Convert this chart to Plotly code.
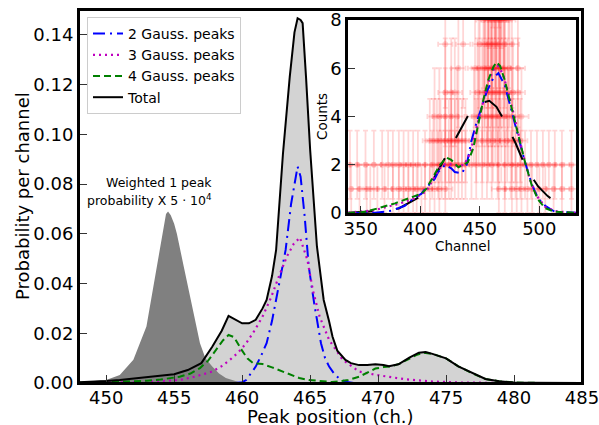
import numpy as np
import plotly.graph_objects as go

# ---------------- main panel data ----------------
weighted_x = [448, 449, 450, 451, 452, 452.96, 453.7, 454.2, 454.4, 454.55, 454.75, 455.0, 455.2,
              455.7, 456.3, 456.9, 457.3, 457.8, 458.3, 458.8, 459.8, 460.5]
weighted_y = [0.0003, 0.0006, 0.0012, 0.0032, 0.0093, 0.0227, 0.0468, 0.063, 0.068, 0.069, 0.0675,
              0.064, 0.060, 0.047, 0.031, 0.016, 0.010, 0.0066, 0.0038, 0.002, 0.0003, 0.0]

total_x = [448, 449, 450, 451, 452, 453, 454, 455, 456, 457, 457.8, 458.5, 459.0, 459.5, 460.0,
           460.5, 461.0, 461.5, 461.8, 462.2, 462.5, 463.0, 463.5, 463.85, 464.08, 464.3, 464.45,
           464.7, 465.0, 465.5, 466.0, 466.4, 466.65, 467.0, 467.6, 468.0, 468.6, 469.2, 469.8,
           470.4, 470.8, 471.5, 472.3, 473.0, 473.5, 474.0, 475.0, 475.9, 476.9, 477.9, 478.9,
           480.0, 481, 482, 485]
total_y = [0.0003, 0.0005, 0.0008, 0.0012, 0.0017, 0.0022, 0.0027, 0.0035, 0.0052, 0.008, 0.0146,
           0.021, 0.027, 0.0255, 0.024, 0.024, 0.0254, 0.030, 0.0334, 0.043, 0.0535, 0.092, 0.123,
           0.141, 0.1467, 0.146, 0.1447, 0.123, 0.094, 0.055, 0.0334, 0.0247, 0.0186, 0.013,
           0.0093, 0.0080, 0.0072, 0.0072, 0.0075, 0.0072, 0.0067, 0.0075, 0.0102, 0.0122, 0.0125,
           0.0117, 0.0099, 0.0067, 0.004, 0.0016, 0.0007, 0.0002, 0.0001, 0.0, 0.0]

g2_x = [459.5, 460.0, 460.3, 460.6, 461.0, 461.4, 461.8, 462.2, 462.5, 462.9, 463.2, 463.6, 464.08,
        464.3, 464.6, 464.9, 465.3, 465.8, 466.1, 466.4, 466.8, 467.1, 467.6, 468.2]
g2_y = [0.0, 0.0003, 0.0012, 0.0035, 0.0066, 0.011, 0.016, 0.025, 0.0334, 0.044, 0.0535, 0.072,
        0.087, 0.083, 0.067, 0.0468, 0.032, 0.016, 0.010, 0.0066, 0.0035, 0.002, 0.0005, 0.0]

g3_x = [448, 452, 455.4, 456.5, 457.8, 458.5, 459.1, 459.7, 460.3, 460.9, 461.5, 462.1, 462.7,
        463.3, 463.8, 464.25, 464.8, 465.2, 465.7, 466.4, 467.4, 468.6, 469.8, 471, 472, 474,
        476, 480, 485]
g3_y = [0.0, 0.0003, 0.0012, 0.0025, 0.0046, 0.0068, 0.0093, 0.0122, 0.016, 0.021, 0.0267, 0.034,
        0.0428, 0.051, 0.056, 0.0585, 0.0495, 0.0374, 0.0267, 0.0173, 0.0093, 0.0046, 0.0033,
        0.0022, 0.0015, 0.0006, 0.0002, 0.0, 0.0]

g4_x = [448, 450, 452, 453, 454, 455.4, 456.2, 456.9, 457.5, 458.1, 458.6, 459.0, 459.4, 460.0,
        460.4, 460.8, 461.5, 462.2, 463.0, 463.6, 464.2, 464.9, 466.0, 466.6, 467.1, 467.8, 468.6,
        469.2, 469.8, 470.4, 471.0, 471.6, 472.3, 472.8, 473.3, 474.0, 475.0, 475.9, 476.9, 477.9,
        478.9, 480.1, 482, 485]
g4_y = [0.0001, 0.0003, 0.0006, 0.0009, 0.0014, 0.0025, 0.0038, 0.006, 0.009, 0.0133, 0.0172,
        0.0193, 0.0185, 0.013, 0.0098, 0.008, 0.0076, 0.0063, 0.0046, 0.0033, 0.002, 0.0012,
        0.0005, 0.0004, 0.0006, 0.0012, 0.0025, 0.0042, 0.0058, 0.0064, 0.0067, 0.0078, 0.0098,
        0.0112, 0.0122, 0.0117, 0.0099, 0.0067, 0.004, 0.0016, 0.0007, 0.0002, 0.0, 0.0]

main_xticks = [450, 455, 460, 465, 470, 475, 480, 485]
main_yticks = [0.00, 0.02, 0.04, 0.06, 0.08, 0.10, 0.12, 0.14]

# ---------------- inset data ----------------
inset_ch = [342, 349, 355, 358, 364, 370, 377, 382, 386, 390, 394, 397, 401, 404, 408, 412, 416, 421,
            466, 471, 477, 481, 485, 490, 494, 500, 505, 512, 519, 527,
            341, 347, 354, 361, 368, 373, 377, 382, 386, 390, 394, 398, 404, 410, 415, 418, 421, 424, 426,
            429, 432, 435, 438, 443, 447, 452, 456, 460, 465, 471, 476, 480, 484, 488, 493, 498, 503,
            508, 513, 519, 527,
            408, 411, 414, 417, 421, 424, 426, 429, 432, 435, 438, 447, 452, 457, 461, 465, 468, 473,
            477, 480, 484,
            412, 416, 421, 426, 431, 445, 449, 454, 457, 460, 463, 466, 471, 474, 477, 485,
            421, 426, 429, 448, 452, 456, 459, 461, 464, 467, 470, 473, 478, 482,
            432, 446, 449, 454, 457, 460, 464, 467, 470, 475, 482,
            421, 436, 450, 454, 457, 460, 463, 466, 471, 477,
            453, 457, 460, 463, 466, 468, 471, 474,
            455, 459, 462, 464, 467, 470,
            458, 463, 468,
            461, 466]
inset_counts = ([1] * 30 + [2] * 41 + [3] * 21 + [4] * 16 + [5] * 14 + [6] * 11 + [7] * 10 +
                [8] * 8 + [9] * 6 + [10] * 3 + [11] * 2)
inset_cherr = [6] * len(inset_ch)
inset_cnterr = list(np.sqrt(inset_counts))

in_tot_x = [339.5, 350, 365, 382, 390, 400, 411, 421, 432, 442, 450, 458, 464, 471, 480, 489, 499, 507, 514, 516]
in_tot_y = [0.01, 0.03, 0.08, 0.19, 0.4, 0.68, 1.4, 2.3, 3.3, 4.2, 4.55, 4.65, 4.4, 3.8, 2.9, 1.85, 1.1, 0.7, 0.45, 0.4]

in_g2_x = [339.5, 360, 370, 376, 387, 393, 401, 404, 412, 415, 421, 426, 429, 435, 439, 443, 447, 452, 456,
           461.4, 465.6, 471, 476.8, 482, 488, 494, 499, 505, 513, 535]
in_g2_y = [0.0, 0.0, 0.05, 0.1, 0.3, 0.55, 0.8, 1.0, 1.4, 1.7, 2.0, 1.85, 1.7, 1.65, 2.0, 3.0, 3.7, 4.5, 5.05,
           5.6, 5.8, 5.3, 4.2, 3.2, 2.1, 1.15, 0.6, 0.3, 0.05, 0.0]

in_g3_x = [339.5, 360, 380, 395, 405, 412, 418, 422, 427, 432, 437, 442, 447, 452, 457, 461, 465, 469, 474,
           480, 486, 492, 498, 505, 513, 525, 535]
in_g3_y = [0.02, 0.1, 0.35, 0.6, 0.9, 1.5, 1.95, 2.05, 2.0, 1.95, 2.0, 2.5, 3.5, 4.5, 5.4, 5.9, 6.1, 5.8, 5.0,
           3.8, 2.5, 1.4, 0.7, 0.25, 0.08, 0.02, 0.0]

in_g4_x = [339.5, 353.6, 364.8, 378.8, 393, 401, 405, 409.6, 416.6, 422, 426, 432, 436, 440, 444.6, 449, 453,
           457, 461.4, 464, 467, 471, 476.8, 482, 488, 493.6, 499, 505, 513, 527, 535]
in_g4_y = [0.0, 0.05, 0.2, 0.4, 0.66, 0.8, 1.0, 1.4, 2.0, 2.3, 2.2, 1.9, 2.0, 2.1, 2.7, 3.8, 4.7, 5.5, 6.05,
           6.25, 6.1, 5.5, 4.4, 3.3, 2.1, 1.15, 0.55, 0.2, 0.05, 0.02, 0.0]

inset_xticks = [350, 400, 450, 500]
inset_yticks = [0, 2, 4, 6, 8]

FONT = "DejaVu Sans"
BLUE = "#0000ff"
MAG = "#bf00bf"
GREEN = "#008000"
RED_A = "rgba(255,0,0,0.16)"

fig = go.Figure()

# main panel fills
fig.add_trace(go.Scatter(x=total_x, y=total_y, mode="lines", fill="tozeroy",
                         fillcolor="#d3d3d3", line=dict(width=0), showlegend=False,
                         hoverinfo="skip"))
fig.add_trace(go.Scatter(x=weighted_x, y=weighted_y, mode="lines", fill="tozeroy",
                         fillcolor="#808080", line=dict(width=0, color="#808080"),
                         showlegend=False, hoverinfo="skip"))

fig.add_trace(go.Scatter(x=g2_x, y=g2_y, mode="lines", name="2 Gauss. peaks",
                         line=dict(color=BLUE, width=2, dash="12px,5px,2px,5px")))
fig.add_trace(go.Scatter(x=g3_x, y=g3_y, mode="lines", name="3 Gauss. peaks",
                         line=dict(color=MAG, width=2.2, dash="2px,4px")))
fig.add_trace(go.Scatter(x=g4_x, y=g4_y, mode="lines", name="4 Gauss. peaks",
                         line=dict(color=GREEN, width=2, dash="7px,4px")))
fig.add_trace(go.Scatter(x=total_x, y=total_y, mode="lines", name="Total",
                         line=dict(color="black", width=2)))

# inset
fig.add_trace(go.Scatter(
    x=inset_ch, y=inset_counts, mode="markers", xaxis="x2", yaxis="y2", showlegend=False,
    marker=dict(size=6, color=RED_A),
    error_x=dict(type="data", array=inset_cherr, color=RED_A, thickness=1.8, width=2.5),
    error_y=dict(type="data", array=inset_cnterr, color=RED_A, thickness=1.8, width=2.5),
))
fig.add_trace(go.Scatter(x=in_tot_x, y=in_tot_y, mode="lines", xaxis="x2", yaxis="y2", showlegend=False,
                         line=dict(color="black", width=2, dash="25px,23px")))
fig.add_trace(go.Scatter(x=in_g2_x, y=in_g2_y, mode="lines", xaxis="x2", yaxis="y2", showlegend=False,
                         line=dict(color=BLUE, width=2, dash="12px,5px,2px,5px")))
fig.add_trace(go.Scatter(x=in_g3_x, y=in_g3_y, mode="lines", xaxis="x2", yaxis="y2", showlegend=False,
                         line=dict(color=MAG, width=2.2, dash="2px,4px")))
fig.add_trace(go.Scatter(x=in_g4_x, y=in_g4_y, mode="lines", xaxis="x2", yaxis="y2", showlegend=False,
                         line=dict(color=GREEN, width=2, dash="7px,4px")))

W, H = 599, 425

def px_x(p):
    return p / W

def px_y(p):
    return 1 - p / H

axis_common = dict(showgrid=False, zeroline=False, showline=True, linecolor="black",
                   mirror=True, ticks="inside", tickcolor="#333333", tickwidth=1,
                   automargin=False, ticklabeloverflow="allow",
                   tickfont=dict(family=FONT, size=18, color="black"))

fig.update_layout(
    template="none",
    width=W, height=H,
    margin=dict(l=0, r=0, t=0, b=0, pad=0, autoexpand=False),
    paper_bgcolor="white", plot_bgcolor="white",
    font=dict(family=FONT, color="black"),
    xaxis=dict(domain=[px_x(79), px_x(582)], range=[448, 485], tickvals=main_xticks,
               ticklen=8, linewidth=2, anchor="y", ticklabelstandoff=-3, **axis_common),
    yaxis=dict(domain=[px_y(383), px_y(10)], range=[0, 0.15], tickvals=main_yticks,
               tickformat=".2f", ticklen=8, linewidth=2, anchor="x", **axis_common),
    xaxis2=dict(domain=[px_x(348), px_x(576)], range=[339.3, 530.8], tickvals=inset_xticks,
                ticklen=7, linewidth=2.5, anchor="y2", ticklabelstandoff=-2, **axis_common),
    yaxis2=dict(domain=[px_y(213), px_y(20)], range=[0, 8], tickvals=inset_yticks,
                ticklen=7, linewidth=2.5, anchor="x2", **axis_common),
    legend=dict(x=px_x(87), y=px_y(17), xanchor="left", yanchor="top",
                bgcolor="white", bordercolor="#cccccc", borderwidth=1,
                font=dict(family=FONT, size=14, color="black")),
    showlegend=True,
    hovermode=False,
    shapes=[
        dict(type="rect", xref="paper", yref="paper", x0=px_x(79), x1=px_x(582),
             y0=px_y(383), y1=px_y(10), line=dict(color="black", width=2),
             fillcolor="rgba(0,0,0,0)", layer="above"),
    ],
)

annotations = [
    dict(text="Peak position (ch.)", xref="paper", yref="paper", x=px_x(330.5), y=px_y(416.5),
         xanchor="center", yanchor="middle", showarrow=False, font=dict(size=18)),
    dict(text="Probability per channel", xref="paper", yref="paper", x=px_x(22), y=px_y(196),
         xanchor="center", yanchor="middle", textangle=-90, showarrow=False, font=dict(size=18)),
    dict(text="Counts", xref="paper", yref="paper", x=px_x(321.5), y=px_y(116.5),
         xanchor="center", yanchor="middle", textangle=-90, showarrow=False, font=dict(size=13.5)),
    dict(text="Channel", xref="paper", yref="paper", x=px_x(462), y=px_y(245.5),
         xanchor="center", yanchor="middle", showarrow=False, font=dict(size=13.5)),
    dict(text="Weighted 1 peak", xref="x", yref="y", x=457.9, y=(383 - 182) * 0.15 / 373,
         xanchor="right", yanchor="middle", showarrow=False, font=dict(size=12.5)),
    dict(text="probability X 5 · 10<sup>4</sup>", xref="x", yref="y", x=457.9, y=(383 - 200) * 0.15 / 373,
         xanchor="right", yanchor="middle", showarrow=False, font=dict(size=12.5)),
]
fig.update_layout(annotations=annotations)

fig.write_html("out.html", config={"displayModeBar": False},
               post_script="document.body.style.margin='0';document.body.style.overflow='hidden';")
